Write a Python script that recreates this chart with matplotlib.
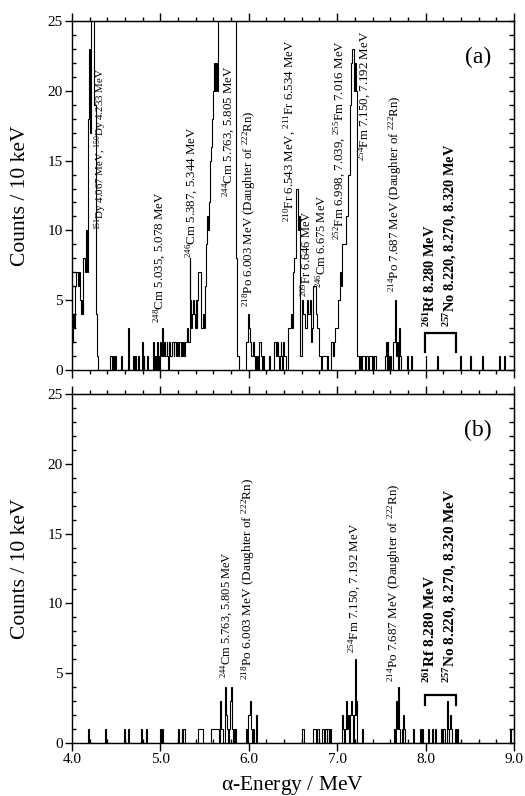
import numpy as np
import matplotlib.pyplot as plt
from matplotlib.ticker import MultipleLocator, FormatStrFormatter

plt.rcParams['font.family'] = ['Liberation Serif', 'DejaVu Serif']
plt.rcParams['mathtext.default'] = 'regular'

# 10 keV bins from 4.0 to 9.0 MeV
E_MIN, E_MAX, BIN = 4000, 9000, 10

# ---- panel (a): bin start (keV) and counts, empty bins left out ----
a_kev = [4000, 4010, 4020, 4030, 4040, 4050, 4060, 4070, 4080, 4090, 4100, 4110, 4120, 4130,
         4140, 4150, 4160, 4170, 4180, 4190, 4200, 4210, 4220, 4230, 4240, 4250, 4260, 4270,
         4280, 4290,
         4430, 4440, 4470, 4490, 4560, 4630, 4690, 4710, 4720, 4750, 4790, 4810, 4850, 4920,
         4940, 4960, 4980,
         5000, 5010, 5020, 5030, 5040, 5050, 5060, 5070, 5080, 5100, 5110, 5120, 5130, 5140,
         5150, 5160, 5170, 5180, 5190, 5200, 5210, 5220, 5230, 5240, 5250, 5260, 5270, 5280,
         5290, 5300, 5310, 5320, 5330, 5340, 5350, 5360, 5370, 5380, 5390, 5400, 5410, 5420,
         5430, 5440, 5450, 5460, 5470, 5480, 5490, 5500, 5510, 5520, 5530, 5540, 5550, 5560,
         5570, 5580, 5590, 5600, 5610, 5620, 5630, 5640,
         5650, 5660, 5670, 5680, 5690, 5700, 5710, 5720, 5730, 5740, 5750, 5760, 5770, 5780,
         5790, 5800, 5810, 5820, 5830, 5840, 5850, 5860, 5870, 5880,
         5970, 5980, 5990, 6000, 6010, 6020, 6030, 6040, 6050, 6060, 6080, 6100, 6120, 6130,
         6140, 6160, 6230, 6290, 6300, 6310, 6320, 6330, 6350, 6360, 6370, 6390, 6400, 6410,
         6440, 6450, 6460, 6470, 6480, 6490, 6500, 6510, 6520, 6530, 6540, 6550, 6560, 6570,
         6580, 6590, 6600, 6610, 6620, 6630, 6640, 6650, 6660, 6670, 6680, 6690, 6700, 6710,
         6720, 6730, 6740, 6750, 6760, 6770, 6780, 6790, 6800, 6810, 6830, 6840, 6850, 6860,
         6870, 6890, 6930, 6940, 6950, 6960, 6970, 6980,
         6990, 7000, 7010, 7020, 7030, 7040, 7050, 7060, 7070, 7080, 7090, 7100, 7110, 7120,
         7130, 7140, 7150, 7160, 7170, 7180, 7190, 7200, 7210, 7220, 7230,
         7240, 7260, 7280, 7290, 7300, 7310, 7330, 7340, 7360, 7370, 7380, 7400, 7420, 7430,
         7540, 7550, 7570, 7580, 7600, 7630, 7640, 7650, 7660, 7670, 7680, 7700, 7710, 7790,
         7840, 8000, 8130, 8390, 8500, 8640, 8830, 8890]
a_cts = [2, 4, 3, 4, 6, 7, 7, 6, 7, 5, 4, 5, 4, 8,
         8, 7, 10, 7, 18, 23, 20, 17, 28, 31, 26, 19, 19, 4,
         1, 1,
         1, 1, 1, 1, 1, 3, 1, 1, 1, 1, 2, 1, 1, 2,
         1, 2, 1,
         2, 1, 3, 1, 2, 1, 1, 2, 1, 2, 1, 1, 2, 2,
         1, 2, 2, 1, 2, 1, 2, 2, 1, 2, 1, 2, 1, 2,
         2, 3, 2, 2, 8, 5, 3, 4, 5, 4, 3, 5, 3, 5,
         7, 7, 7, 3, 3, 4, 3, 6, 6, 9, 11, 10, 12, 15,
         16, 18, 18, 20, 22, 20, 22, 20,
         27, 32, 36, 41, 47, 52, 58, 66, 74, 83, 91, 97, 94, 88,
         86, 92, 84, 66, 47, 34, 27, 8, 1, 1,
         2, 2, 4, 3, 2, 1, 1, 1, 2, 1, 1, 1, 2, 2,
         1, 1, 1, 2, 2, 1, 2, 1, 1, 2, 1, 2, 1, 1,
         3, 3, 3, 3, 4, 3, 7, 8, 8, 10, 13, 13, 10, 11,
         1, 1, 5, 4, 4, 4, 3, 3, 5, 4, 4, 5, 2, 3,
         3, 6, 6, 6, 4, 3, 3, 2, 1, 1, 1, 1, 1, 1,
         1, 1, 2, 2, 1, 2, 2, 3,
         3, 3, 5, 5, 7, 6, 6, 9, 9, 9, 9, 11, 11, 14,
         14, 19, 19, 22, 23, 23, 20, 22, 20, 20, 1,
         1, 1, 1, 1, 1, 1, 1, 1, 1, 1, 1, 1, 1, 1,
         1, 2, 2, 1, 1, 2, 2, 5, 2, 1, 2, 3, 1, 1,
         1, 1, 1, 1, 1, 1, 1, 1]

# ---- panel (b) ----
b_kev = [4180, 4370, 4590, 4630, 4780, 4840, 5000, 5020, 5200, 5240, 5260, 5270, 5430, 5440,
         5450, 5460, 5470, 5570, 5580, 5590, 5600, 5610, 5620, 5630, 5640, 5650, 5680, 5690,
         5700, 5730, 5740, 5750, 5780, 5790, 5800, 5810, 5830, 5850,
         5970, 5990, 6000, 6010, 6020, 6030, 6050, 6080,
         6600, 6610, 6730, 6740, 6750, 6770, 6780, 6830, 6840, 6860, 6870, 6890, 6900, 6920,
         7050, 7060, 7070, 7090, 7100, 7110, 7120, 7140, 7150, 7160, 7170, 7190, 7200, 7210,
         7220, 7280, 7640, 7660, 7670, 7680, 7690, 7700, 7730, 7750, 7760, 7860, 7940, 7960,
         8030, 8070, 8110, 8180, 8200, 8210, 8240, 8250, 8270, 8280, 8290, 8330, 8360, 8960]
b_cts = [1, 1, 1, 1, 1, 1, 1, 1, 1, 1, 1, 1, 1, 1,
         1, 1, 1, 1, 1, 1, 1, 1, 1, 1, 1, 1, 3, 1,
         1, 4, 2, 1, 1, 3, 4, 1, 1, 1,
         1, 2, 2, 3, 2, 1, 1, 2,
         1, 1, 1, 1, 1, 1, 1, 1, 1, 1, 1, 1, 1, 1,
         1, 2, 1, 1, 3, 1, 2, 1, 2, 3, 2, 2, 6, 2,
         3, 1, 1, 1, 3, 1, 4, 1, 1, 2, 1, 1, 1, 1,
         1, 1, 1, 1, 1, 1, 3, 1, 1, 2, 1, 1, 1, 1]

# peak labels: text, energy, count level of the text start, font size
a_labels = [
    (r'$^{151}$Dy 4.067 MeV, $^{150}$Dy 4.233 MeV', 4.32, 10.0, 7.8),
    (r'$^{248}$Cm 5.035, 5.078 MeV', 5.00, 3.4, 9.3),
    (r'$^{246}$Cm 5.387, 5.344 MeV', 5.36, 8.0, 9.3),
    (r'$^{244}$Cm 5.763, 5.805 MeV', 5.78, 12.4, 9.3),
    (r'$^{218}$Po 6.003 MeV (Daughter of $^{222}$Rn)', 6.01, 4.5, 9.3),
    (r'$^{210}$Fr 6.543 MeV, $^{211}$Fr 6.534 MeV', 6.47, 10.6, 9.3),
    (r'$^{209}$Fr 6.646 MeV', 6.655, 5.2, 9.0),
    (r'$^{246}$Cm 6.675 MeV', 6.82, 5.9, 9.0),
    (r'$^{252}$Fm 6.998, 7.039, $^{255}$Fm 7.016 MeV', 7.03, 9.3, 9.3),
    (r'$^{254}$Fm 7.150, 7.192 MeV', 7.315, 15.0, 9.3),
    (r'$^{214}$Po 7.687 MeV (Daughter of $^{222}$Rn)', 7.655, 5.6, 9.3),
]
b_labels = [
    (r'$^{244}$Cm 5.763, 5.805 MeV', 5.75, 4.65, 8.9),
    (r'$^{218}$Po 6.003 MeV (Daughter of $^{222}$Rn)', 5.99, 4.5, 9.5),
    (r'$^{254}$Fm 7.150, 7.192 MeV', 7.20, 6.45, 9.3),
    (r'$^{214}$Po 7.687 MeV (Daughter of $^{222}$Rn)', 7.65, 4.4, 9.4),
]
rf_text = r'$^{261}$Rf 8.280 MeV'
no_text = r'$^{257}$No 8.220, 8.270, 8.320 MeV'

edges = np.arange(E_MIN, E_MAX + BIN, BIN) / 1000.0


def to_hist(kev, cts):
    h = np.zeros(len(edges) - 1)
    h[(np.array(kev) - E_MIN) // BIN] = cts
    return h


fig = plt.figure(figsize=(5.25, 7.96), dpi=100)
ax_a = fig.add_axes([0.137, 0.5352, 0.842, 0.4384])
ax_b = fig.add_axes([0.137, 0.0666, 0.842, 0.4384])


def style(ax, bottom_minor_dir):
    ax.set_xlim(4.0, 9.0)
    ax.set_ylim(0, 25)
    for s in ax.spines.values():
        s.set_linewidth(1.0)
    ax.xaxis.set_major_locator(MultipleLocator(1.0))
    ax.xaxis.set_minor_locator(MultipleLocator(0.2))
    ax.yaxis.set_major_locator(MultipleLocator(5))
    ax.yaxis.set_minor_locator(MultipleLocator(1))
    ax.xaxis.set_major_formatter(FormatStrFormatter('%.1f'))
    ax.tick_params(axis='x', which='major', direction='out', length=5.5, width=1.0,
                   top=False, labelsize=11, pad=2)
    ax.tick_params(axis='x', which='minor', direction=bottom_minor_dir, length=3.2,
                   width=1.0, top=False)
    ax.tick_params(axis='y', which='major', direction='out', length=5, width=1.0,
                   right=False, labelsize=11, pad=1.5)
    ax.tick_params(axis='y', which='minor', direction='in', length=3.2, width=1.0,
                   right=False)
    # top ticks (outward) and right ticks (inward)
    top = ax.secondary_xaxis('top')
    top.xaxis.set_major_locator(MultipleLocator(1.0))
    top.xaxis.set_minor_locator(MultipleLocator(0.2))
    top.tick_params(which='major', direction='out', length=6, width=1.0, labeltop=False)
    top.tick_params(which='minor', direction='out', length=3.2, width=1.0)
    right = ax.secondary_yaxis('right')
    right.yaxis.set_major_locator(MultipleLocator(5))
    right.yaxis.set_minor_locator(MultipleLocator(1))
    right.tick_params(which='both', direction='in', length=3.5, width=1.0, labelright=False)
    ax.set_ylabel('Counts / 10 keV', fontsize=15.5)
    ax.yaxis.set_label_coords(-0.095, 0.5)


style(ax_a, 'out')
style(ax_b, 'in')
ax_a.tick_params(axis='x', labelbottom=False)

ax_a.stairs(to_hist(a_kev, a_cts), edges, color='k', lw=0.8, baseline=0)
ax_b.stairs(to_hist(b_kev, b_cts), edges, color='k', lw=0.8, baseline=0)

for ax, labels, lvl, bold_sz, br in ((ax_a, a_labels, 3.1, 10.4, (1.3, 2.65)),
                                     (ax_b, b_labels, 4.3, 11.0, (2.7, 3.45))):
    for txt, x, y, sz in labels:
        ax.text(x, y, txt, rotation=90, ha='center', va='bottom', fontsize=sz)
    ax.text(8.05, lvl, rf_text, rotation=90, ha='center', va='bottom',
            fontsize=bold_sz, fontweight='bold')
    ax.text(8.28, lvl, no_text, rotation=90, ha='center', va='bottom',
            fontsize=bold_sz, fontweight='bold')
    ax.plot([7.99, 7.99, 8.34, 8.34], [br[0], br[1], br[1], br[0]], color='k', lw=1.6,
            solid_joinstyle='miter')

ax_a.text(8.59, 22.4, '(a)', ha='center', va='center', fontsize=17)
ax_b.text(8.59, 22.4, '(b)', ha='center', va='center', fontsize=17)

ax_b.set_xlabel(r'$\alpha$-Energy / MeV', fontsize=15.5)
ax_b.xaxis.set_label_coords(0.5, -0.088)

fig.savefig('out.png', dpi=100)
